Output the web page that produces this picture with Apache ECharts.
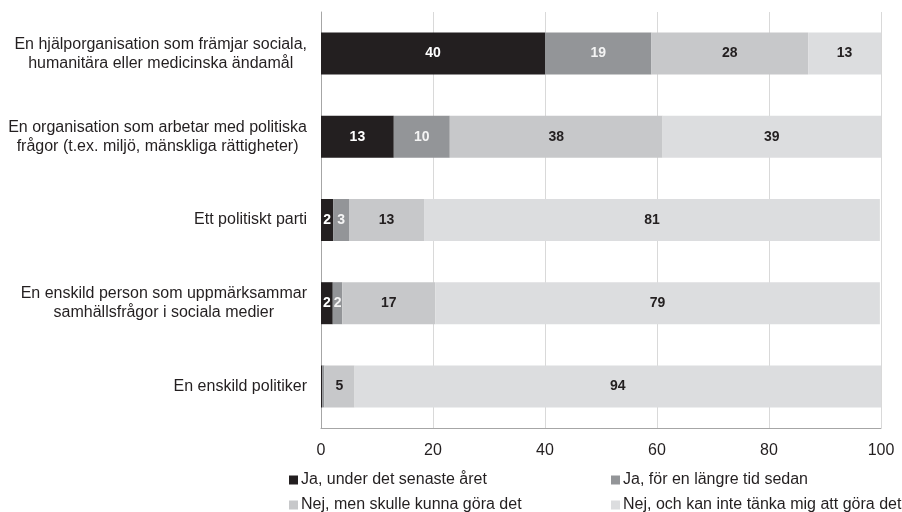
<!DOCTYPE html>
<html>
<head>
<meta charset="utf-8">
<script src="https://cdn.jsdelivr.net/npm/echarts@6/dist/echarts.min.js"></script>
<style>
  html, body { margin: 0; padding: 0; background: #fff; }
  #chart { width: 902px; height: 512px; }
</style>
</head>
<body>
<div id="chart"></div>
<script>
const categories = [
  "En hjälporganisation som främjar sociala,\nhumanitära eller medicinska ändamål",
  "En organisation som arbetar med politiska\nfrågor (t.ex. miljö, mänskliga rättigheter)",
  "Ett politiskt parti",
  "En enskild person som uppmärksammar\nsamhällsfrågor i sociala medier",
  "En enskild politiker"
];
const seriesNames = [
  "Ja, under det senaste året",
  "Ja, för en längre tid sedan",
  "Nej, men skulle kunna göra det",
  "Nej, och kan inte tänka mig att göra det"
];
const jaSenaste = [40, 13, 2.2, 2.1, 0.2];
const jaLangre = [19, 10, 2.8, 1.7, 0.4];
const nejKunna = [28, 38, 13.4, 16.6, 5.4];
const nejInte = [13, 39, 81.4, 79.4, 94];
const xTicks = [0, 20, 40, 60, 80, 100];

const FONT = "Liberation Sans, Arial, sans-serif";
const colors = ["#231f20", "#939598", "#c7c8ca", "#dcdddf"];
const labelColors = ["#ffffff", "#f4f4f4", "#231f20", "#231f20"];
const values = [jaSenaste, jaLangre, nejKunna, nejInte];
// legend spots: [left, top]
const legendPos = [[289, 472], [611, 472], [289, 497], [611, 497]];

let mychart = echarts.init(document.getElementById("chart"));
mychart.setOption({
  animation: false,
  textStyle: { fontFamily: FONT },
  grid: { left: 321, right: 21, top: 12, bottom: 84 },
  legend: seriesNames.map(function (name, i) {
    return {
      data: [name],
      left: legendPos[i][0],
      top: legendPos[i][1],
      padding: 0,
      itemWidth: 9,
      itemHeight: 9,
      icon: "rect",
      selectedMode: false,
      textStyle: { fontSize: 16, color: "#231f20", fontFamily: FONT, padding: [0, 0, 0, -2] }
    };
  }),
  xAxis: {
    type: "value",
    min: 0,
    max: 100,
    interval: 20,
    axisLine: { show: true, lineStyle: { color: "#a6a6a6" } },
    axisTick: { show: false },
    splitLine: { lineStyle: { color: "#d9d9d9" } },
    axisLabel: {
      color: "#231f20",
      fontSize: 16,
      fontFamily: FONT,
      margin: 15,
      formatter: function (v) { return xTicks.indexOf(v) >= 0 ? String(v) : ""; }
    }
  },
  yAxis: {
    type: "category",
    inverse: true,
    data: categories,
    axisLine: { show: true, lineStyle: { color: "#a6a6a6" } },
    axisTick: { show: false },
    axisLabel: {
      margin: 14,
      formatter: function (v) {
        return v.split("\n").map(function (s) { return "{a|" + s + "}"; }).join("\n");
      },
      rich: {
        a: { fontSize: 16, fontFamily: FONT, color: "#231f20", align: "center", lineHeight: 19 }
      }
    }
  },
  series: values.map(function (arr, i) {
    return {
      name: seriesNames[i],
      type: "bar",
      stack: "total",
      barWidth: 42,
      data: arr,
      itemStyle: { color: colors[i] },
      label: {
        show: true,
        position: "inside",
        color: labelColors[i],
        fontWeight: "bold",
        fontSize: 14,
        fontFamily: FONT,
        formatter: function (p) { return p.value >= 1 ? String(Math.round(p.value)) : ""; }
      }
    };
  })
});
</script>
</body>
</html>
